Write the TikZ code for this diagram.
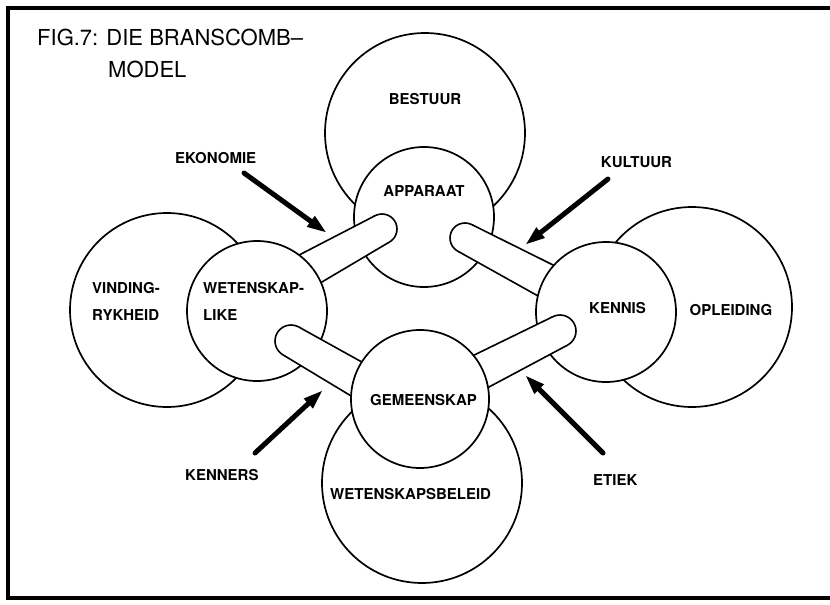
\documentclass[tikz,border=0pt]{standalone}
\usepackage{fontspec}
\setmainfont{TeX Gyre Heros}
\usetikzlibrary{calc,arrows.meta}
\tikzset{
  ring/.style={circle, draw, line width=1.7pt, fill=white, inner sep=0pt},
  tubeline/.style={line width=1.6pt, line join=round},
  lab/.style={font=\bfseries\fontsize{15}{18}\selectfont, inner sep=0pt},
  ttl/.style={font=\fontsize{22}{26}\selectfont, inner sep=0pt, anchor=base west},
  push/.style={line width=5pt, line cap=round, -{Triangle[length=20pt,width=12pt]}},
}
\newcommand{\tubedraw}[4]{%
  \filldraw[tubeline, fill=white] (#1) circle[radius=#3];
  \fill[white] ($(#1)!#3!90:(#2)$) -- ($(#2)!#4!-90:(#1)$) -- ($(#2)!#4!90:(#1)$) -- ($(#1)!#3!-90:(#2)$) -- cycle;
  \draw[tubeline] ($(#1)!#3!90:(#2)$) -- ($(#2)!#4!-90:(#1)$);
  \draw[tubeline] ($(#1)!#3!-90:(#2)$) -- ($(#2)!#4!90:(#1)$);
}
\begin{document}
\begin{tikzpicture}[x=1pt,y=-1pt]
\useasboundingbox (0,0) rectangle (830,605);
\fill[white] (0,0) rectangle (830,605);
\draw[line width=3.2pt] (830,8) -- (8,8) -- (8,598) -- (830,598);

% big circles
\node[ring, minimum size=200pt] (bestuur) at (425,133) {};
\node[ring, minimum size=194pt] (vinding) at (167,310) {};
\node[ring, minimum size=200pt] (opleiding) at (692,307) {};
\node[ring, minimum size=200pt] (beleid) at (422,483) {};

% tube anchor points
\coordinate (t1a) at (382,229); \coordinate (t1b) at (290,280);
\coordinate (t2a) at (465,238); \coordinate (t2b) at (575,296);
\coordinate (t3a) at (291,341); \coordinate (t3b) at (386,396);
\coordinate (t4a) at (560,331); \coordinate (t4b) at (462,381);

\node[ring, minimum size=140pt] (apparaat) at (424,217) {};
\tubedraw{t1a}{t1b}{15pt}{18pt}
\tubedraw{t2a}{t2b}{15pt}{18pt}
\node[ring, minimum size=140pt] (wlike) at (257,311) {};
\node[ring, minimum size=140pt] (kennis) at (606,312) {};
\tubedraw{t3a}{t3b}{16pt}{18pt}
\tubedraw{t4a}{t4b}{16pt}{18pt}
\node[ring, minimum size=138pt] (gemeenskap) at (420,399) {};

% title
\node[ttl] (title1) at (37,45) {FIG.7: DIE BRANSCOMB–};
\node[ttl] (title2) at (108,77) {MODEL};

% labels
\node[lab, anchor=base] (lbestuur) at (425,104) {BESTUUR};
\node[lab, anchor=base] (lapparaat) at (424,196.5) {APPARAAT};
\node[lab, anchor=base west] (lvind1) at (92,293.5) {VINDING-};
\node[lab, anchor=base west] (lvind2) at (92,320.5) {RYKHEID};
\node[lab, anchor=base west] (lwet1) at (203,293.5) {WETENSKAP-};
\node[lab, anchor=base west] (lwet2) at (203,320.5) {LIKE};
\node[lab, anchor=base] (lkennis) at (617.5,313.5) {KENNIS};
\node[lab, anchor=base] (lopl) at (731,315) {OPLEIDING};
\node[lab, anchor=base] (lgem) at (423.5,405.5) {GEMEENSKAP};
\node[lab, anchor=base west] (lbeleid) at (330,499) {WETENSKAPSBELEID};
\node[lab, anchor=base west] (leko) at (175,163.5) {EKONOMIE};
\node[lab, anchor=base] (lkul) at (636.5,167.5) {KULTUUR};
\node[lab, anchor=base west] (lken) at (185,480.5) {KENNERS};
\node[lab, anchor=base west] (letiek) at (593,485.5) {ETIEK};

% arrows
\coordinate (a1s) at (244,173); \coordinate (a1e) at (327,233);
\coordinate (a2s) at (608,179); \coordinate (a2e) at (525,245);
\coordinate (a3s) at (255,453); \coordinate (a3e) at (323,390);
\coordinate (a4s) at (603,453); \coordinate (a4e) at (525,375);
\draw[push] (a1s) -- (a1e);
\draw[push] (a2s) -- (a2e);
\draw[push] (a3s) -- (a3e);
\draw[push] (a4s) -- (a4e);
\end{tikzpicture}
\end{document}
